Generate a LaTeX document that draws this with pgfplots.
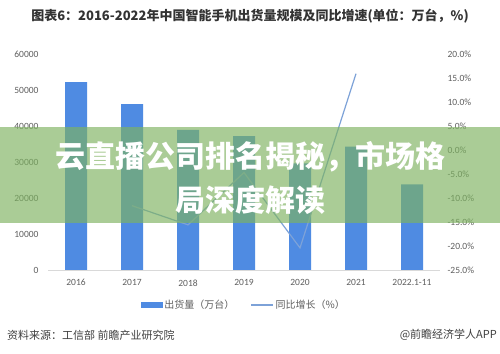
\documentclass[border=0pt]{standalone}
\usepackage{pgfplots}
\pgfplotsset{compat=1.18}
\usepackage{fontspec}
\setmainfont{Carlito}
\newfontfamily\cjk{Noto Sans CJK SC}
\definecolor{barblue}{RGB}{79,139,226}
\definecolor{lineblue}{RGB}{125,162,216}
\definecolor{tickgray}{RGB}{95,95,95}
\definecolor{bandgreen}{RGB}{126,179,96}
\begin{document}
\begin{tikzpicture}[x=1pt,y=1pt]
\useasboundingbox (0,0) rectangle (500,353);
\fill[white] (0,0) rectangle (500,353);
% left axis with bars
\begin{axis}[
  at={(48pt,83pt)}, anchor=south west,
  scale only axis, width=392pt, height=216pt,
  xmin=-0.5, xmax=6.5, ymin=0, ymax=60000,
  axis x line*=bottom, axis y line*=left,
  x axis line style={draw=black!15, line width=0.8pt, -},
  y axis line style={draw=none},
  major tick length=0pt,
  xtick={0,...,6},
  xticklabels={2016,2017,2018,2019,2020,2021,2022.1-11},
  ytick={0,10000,...,60000},
  scaled y ticks=false,
  /pgf/number format/set thousands separator={},
  /pgf/number format/assume math mode=true,
  ticklabel style={font=\fontsize{9.5}{11}\selectfont, text=tickgray},
  xticklabel style={yshift=-6pt},
  yticklabel style={xshift=-6pt},
  ybar, bar width=22pt,
]
\addplot[fill=barblue, draw=none] coordinates {
(0,52200) (1,46100) (2,38900) (3,37200) (4,29600) (5,34300) (6,23800)};
\end{axis}
% right axis with line
\begin{axis}[
  at={(48pt,83pt)}, anchor=south west,
  scale only axis, width=392pt, height=216pt,
  xmin=-0.5, xmax=6.5, ymin=-25, ymax=20,
  axis y line*=right, axis x line=none,
  y axis line style={draw=none},
  major tick length=0pt,
  ytick={-25,-20,...,20},
  yticklabel={\pgfmathprintnumber[fixed,fixed zerofill,precision=1]{\tick}\%},
  /pgf/number format/assume math mode=true,
  ticklabel style={font=\fontsize{9.5}{11}\selectfont, text=tickgray},
  yticklabel style={xshift=4pt},
  legend columns=2,
  legend style={draw=none, fill=none, at={(0.5,-0.162)}, anchor=center,
    font=\cjk\fontsize{10}{12}\selectfont, text=tickgray,
    /tikz/every even column/.append style={column sep=14pt}},
]
\addlegendimage{legend image code/.code={\fill[barblue] (0pt,-2.5pt) rectangle (21pt,2.5pt);}}
\addlegendentry{出货量（万台）}
\addplot[color=lineblue, line width=1.2pt, mark=none,
  legend image code/.code={\draw[lineblue, line width=1.2pt] (0pt,0pt) -- (22pt,0pt);}]
  coordinates {(1,-11.6) (2,-15.6) (3,-4.7) (4,-20.4) (5,15.9)};
\addlegendentry{同比增长（\%）}
\end{axis}
% title
\node[anchor=center, text=black!80] at (250,337)
  {\cjk\bfseries\fontsize{13}{16}\selectfont 图表6：2016-2022年中国智能手机出货量规模及同比增速(单位：万台，\%)};
% source
\node[anchor=west, text=black!75, inner sep=0pt] at (7,18)
  {\cjk\fontsize{11}{13}\selectfont 资料来源：工信部 前瞻产业研究院};
\node[anchor=east, text=black!75, inner sep=0pt] at (497,18)
  {\cjk\fontsize{11}{13}\selectfont @前瞻经济学人APP};
% overlay band
\fill[bandgreen, opacity=0.66] (0,130) rectangle (500,226);
\node[text=white, inner sep=0pt] at (250,196)
  {\cjk\bfseries\fontsize{30}{34}\selectfont 云直播公司排名揭秘，市场格};
\node[text=white, inner sep=0pt] at (250,153)
  {\cjk\bfseries\fontsize{30}{34}\selectfont 局深度解读};
\end{tikzpicture}
\end{document}
